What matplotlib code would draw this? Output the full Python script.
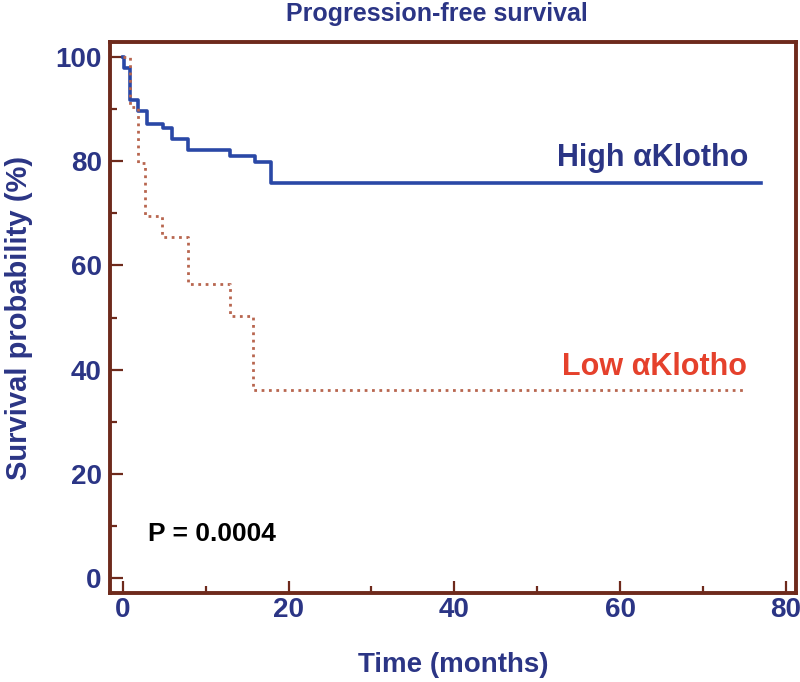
import matplotlib
matplotlib.use("Agg")
import matplotlib.pyplot as plt
from matplotlib.ticker import MultipleLocator

plt.rcParams['font.family'] = ['Liberation Sans', 'DejaVu Sans']

# ---- Daten ----
high_t = [0, 0.2, 0.9, 1.9, 2.9, 4.9, 5.9, 7.9, 13.0, 15.9, 17.9, 77.0]
high_s = [100, 98.0, 91.8, 89.6, 87.1, 86.3, 84.2, 82.1, 81.0, 79.8, 75.8, 75.8]

low_t = [0, 0.85, 1.9, 2.7, 4.8, 7.9, 12.9, 15.7, 74.8]
low_s = [100, 90.5, 79.6, 69.4, 65.5, 56.4, 50.3, 36.1, 36.1]

navy = '#2b3585'
frame = '#6e2a1c'

fig = plt.figure(figsize=(8, 6.82), dpi=100)
ax = fig.add_axes([110 / 800, 1 - 593 / 682, 686 / 800, 551 / 682])

ax.step(high_t, high_s, where='post', color='#2a48a6', linewidth=2.6)
ax.step(low_t, low_s, where='post', color='#b8664f', linewidth=2.0, linestyle=':')

ax.set_xlim(-1.53, 81.2)
ax.set_ylim(-2.9, 102.9)
ax.xaxis.set_major_locator(MultipleLocator(20))
ax.xaxis.set_minor_locator(MultipleLocator(10))
ax.yaxis.set_major_locator(MultipleLocator(20))
ax.yaxis.set_minor_locator(MultipleLocator(10))

for sp in ax.spines.values():
    sp.set_color(frame)
    sp.set_linewidth(2.8)
ax.tick_params(which='major', direction='in', length=9, width=1.6, color=frame,
               labelsize=20, labelcolor=navy)
ax.tick_params(axis='x', which='major', pad=3)
ax.tick_params(axis='y', which='major', pad=6)
ax.tick_params(which='minor', direction='in', length=5, width=1.6, color=frame)
for lbl in ax.get_xticklabels() + ax.get_yticklabels():
    lbl.set_fontweight('bold')

ax.set_xlabel("Time (months)", fontsize=20, fontweight='bold', color=navy, labelpad=21)
ax.set_ylabel("Survival probability (%)", fontsize=21, fontweight='bold', color=navy, labelpad=16)
fig.text(437 / 800, 1 - 21 / 682, "Progression-free survival", fontsize=18, fontweight='bold',
         color=navy, ha='center', va='baseline')

ax.text(75.45, 79.1, "High \u03b1Klotho", fontsize=22, fontweight='bold', color=navy,
        ha='right', va='baseline')
ax.text(75.25, 38.95, "Low \u03b1Klotho", fontsize=22, fontweight='bold', color='#e5412c',
        ha='right', va='baseline')
ax.text(3, 8.5, "P = 0.0004", fontsize=19, fontweight='bold', color='black',
        ha='left', va='center')

fig.savefig("out.png", dpi=100)
